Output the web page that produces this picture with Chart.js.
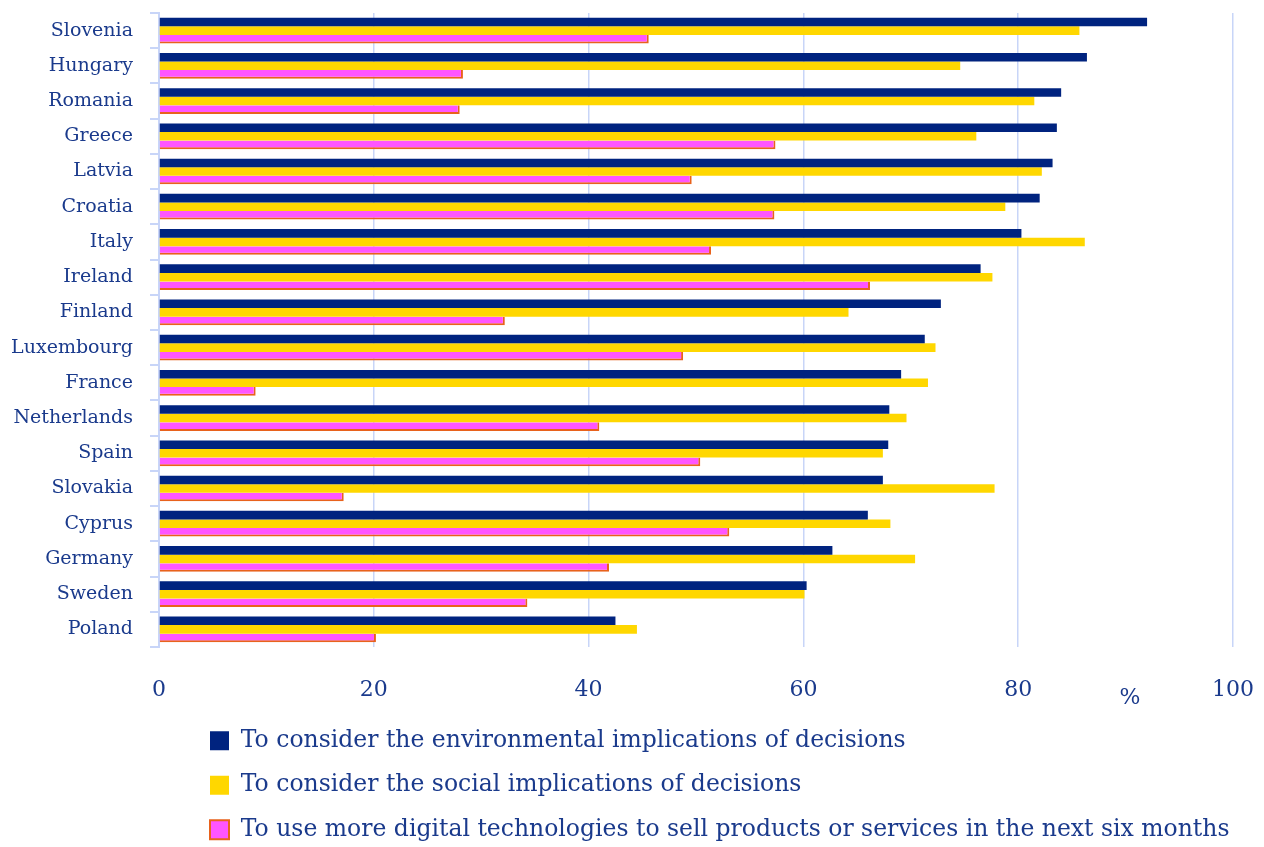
<!DOCTYPE html>
<html><head><meta charset="utf-8">
<script src="https://cdn.jsdelivr.net/npm/chart.js@4"></script>
<style>html,body{margin:0;padding:0;background:#fff}#wrap{width:1264px;height:847px}</style>
</head><body><div id="wrap"><canvas id="c" width="1264" height="847"></canvas></div>
<script>
const countries = ["Slovenia","Hungary","Romania","Greece","Latvia","Croatia","Italy","Ireland","Finland","Luxembourg","France","Netherlands","Spain","Slovakia","Cyprus","Germany","Sweden","Poland"];
const environmental = [92.0,86.4,84.0,83.6,83.2,82.0,80.3,76.5,72.8,71.3,69.1,68.0,67.9,67.4,66.0,62.7,60.3,42.5];
const social = [85.7,74.6,81.5,76.1,82.2,78.8,86.2,77.6,64.2,72.3,71.6,69.6,67.4,77.8,68.1,70.4,60.1,44.5];
const digital = [45.6,28.3,28.0,57.4,49.6,57.3,51.4,66.2,32.2,48.8,9.0,41.0,50.4,17.2,53.1,41.9,34.3,20.2];
const seriesLabels = ["To consider the environmental implications of decisions","To consider the social implications of decisions","To use more digital technologies to sell products or services in the next six months"];
const xMin = 0, xMax = 100, xStep = 20;
const unitLabel = "%";

const TEXT = '#1A3A8C';
const GRID = '#C8D5F8';
const FONT = '"DejaVu Serif", serif';

const extras = {
  id: 'extras',
  afterLayout(chart) {
    const lg = chart.legend;
    if (lg) { const dx = 189; lg.left += dx; lg.right += dx; }
  },
  afterDraw(chart) {
    const ctx = chart.ctx, xs = chart.scales.x;
    ctx.save();
    ctx.font = '22px ' + FONT;
    ctx.fillStyle = TEXT;
    ctx.textAlign = 'center';
    ctx.textBaseline = 'middle';
    ctx.fillText(unitLabel, xs.getPixelForValue(90.4), chart.chartArea.bottom + 51);
    ctx.restore();
  }
};

new Chart(document.getElementById('c'), {
  type: 'bar',
  data: {
    labels: countries,
    datasets: [
      { label: seriesLabels[0], data: environmental, backgroundColor: '#00237F', borderWidth: 0 },
      { label: seriesLabels[1], data: social, backgroundColor: '#FFD700', borderWidth: 0 },
      { label: seriesLabels[2], data: digital, backgroundColor: '#FF55FF', borderColor: '#E8621C',
        borderWidth: {top: 0, left: 0, right: 2, bottom: 2} }
    ]
  },
  options: {
    indexAxis: 'y',
    responsive: false,
    animation: false,
    devicePixelRatio: 1,
    categoryPercentage: 0.73,
    barPercentage: 1,
    layout: { padding: { top: 13, right: 31, bottom: 0, left: 0 } },
    scales: {
      x: {
        min: xMin, max: xMax,
        ticks: { stepSize: xStep, color: TEXT, font: { family: FONT, size: 22 }, padding: 30 },
        grid: { color: GRID, lineWidth: 1.5, drawTicks: false },
        border: { display: false },
        afterFit(s) { s.height = 61; s.paddingLeft = 0; s.paddingRight = 0; s.paddingTop = 0; s.paddingBottom = 0; }
      },
      y: {
        ticks: { color: TEXT, font: { family: FONT, size: 19 }, padding: 17 },
        grid: { offset: true, drawOnChartArea: false, drawTicks: true, tickLength: 9, color: GRID, lineWidth: 2 },
        border: { display: true, color: GRID, width: 2 },
        afterFit(s) { s.width = 159; s.paddingLeft = 0; s.paddingRight = 0; s.paddingTop = 0; s.paddingBottom = 0; }
      }
    },
    plugins: {
      tooltip: { enabled: false },
      legend: {
        position: 'bottom',
        align: 'start',
        maxHeight: 139,
        labels: {
          color: TEXT,
          font: { family: FONT, size: 23.5 },
          boxWidth: 19, boxHeight: 19,
          padding: 21,
          generateLabels(chart) {
            const items = Chart.defaults.plugins.legend.labels.generateLabels(chart);
            items.forEach((it, i) => { it.lineWidth = i === 2 ? 2 : 0; });
            return items;
          }
        }
      }
    }
  },
  plugins: [extras]
});
</script>
</body></html>
